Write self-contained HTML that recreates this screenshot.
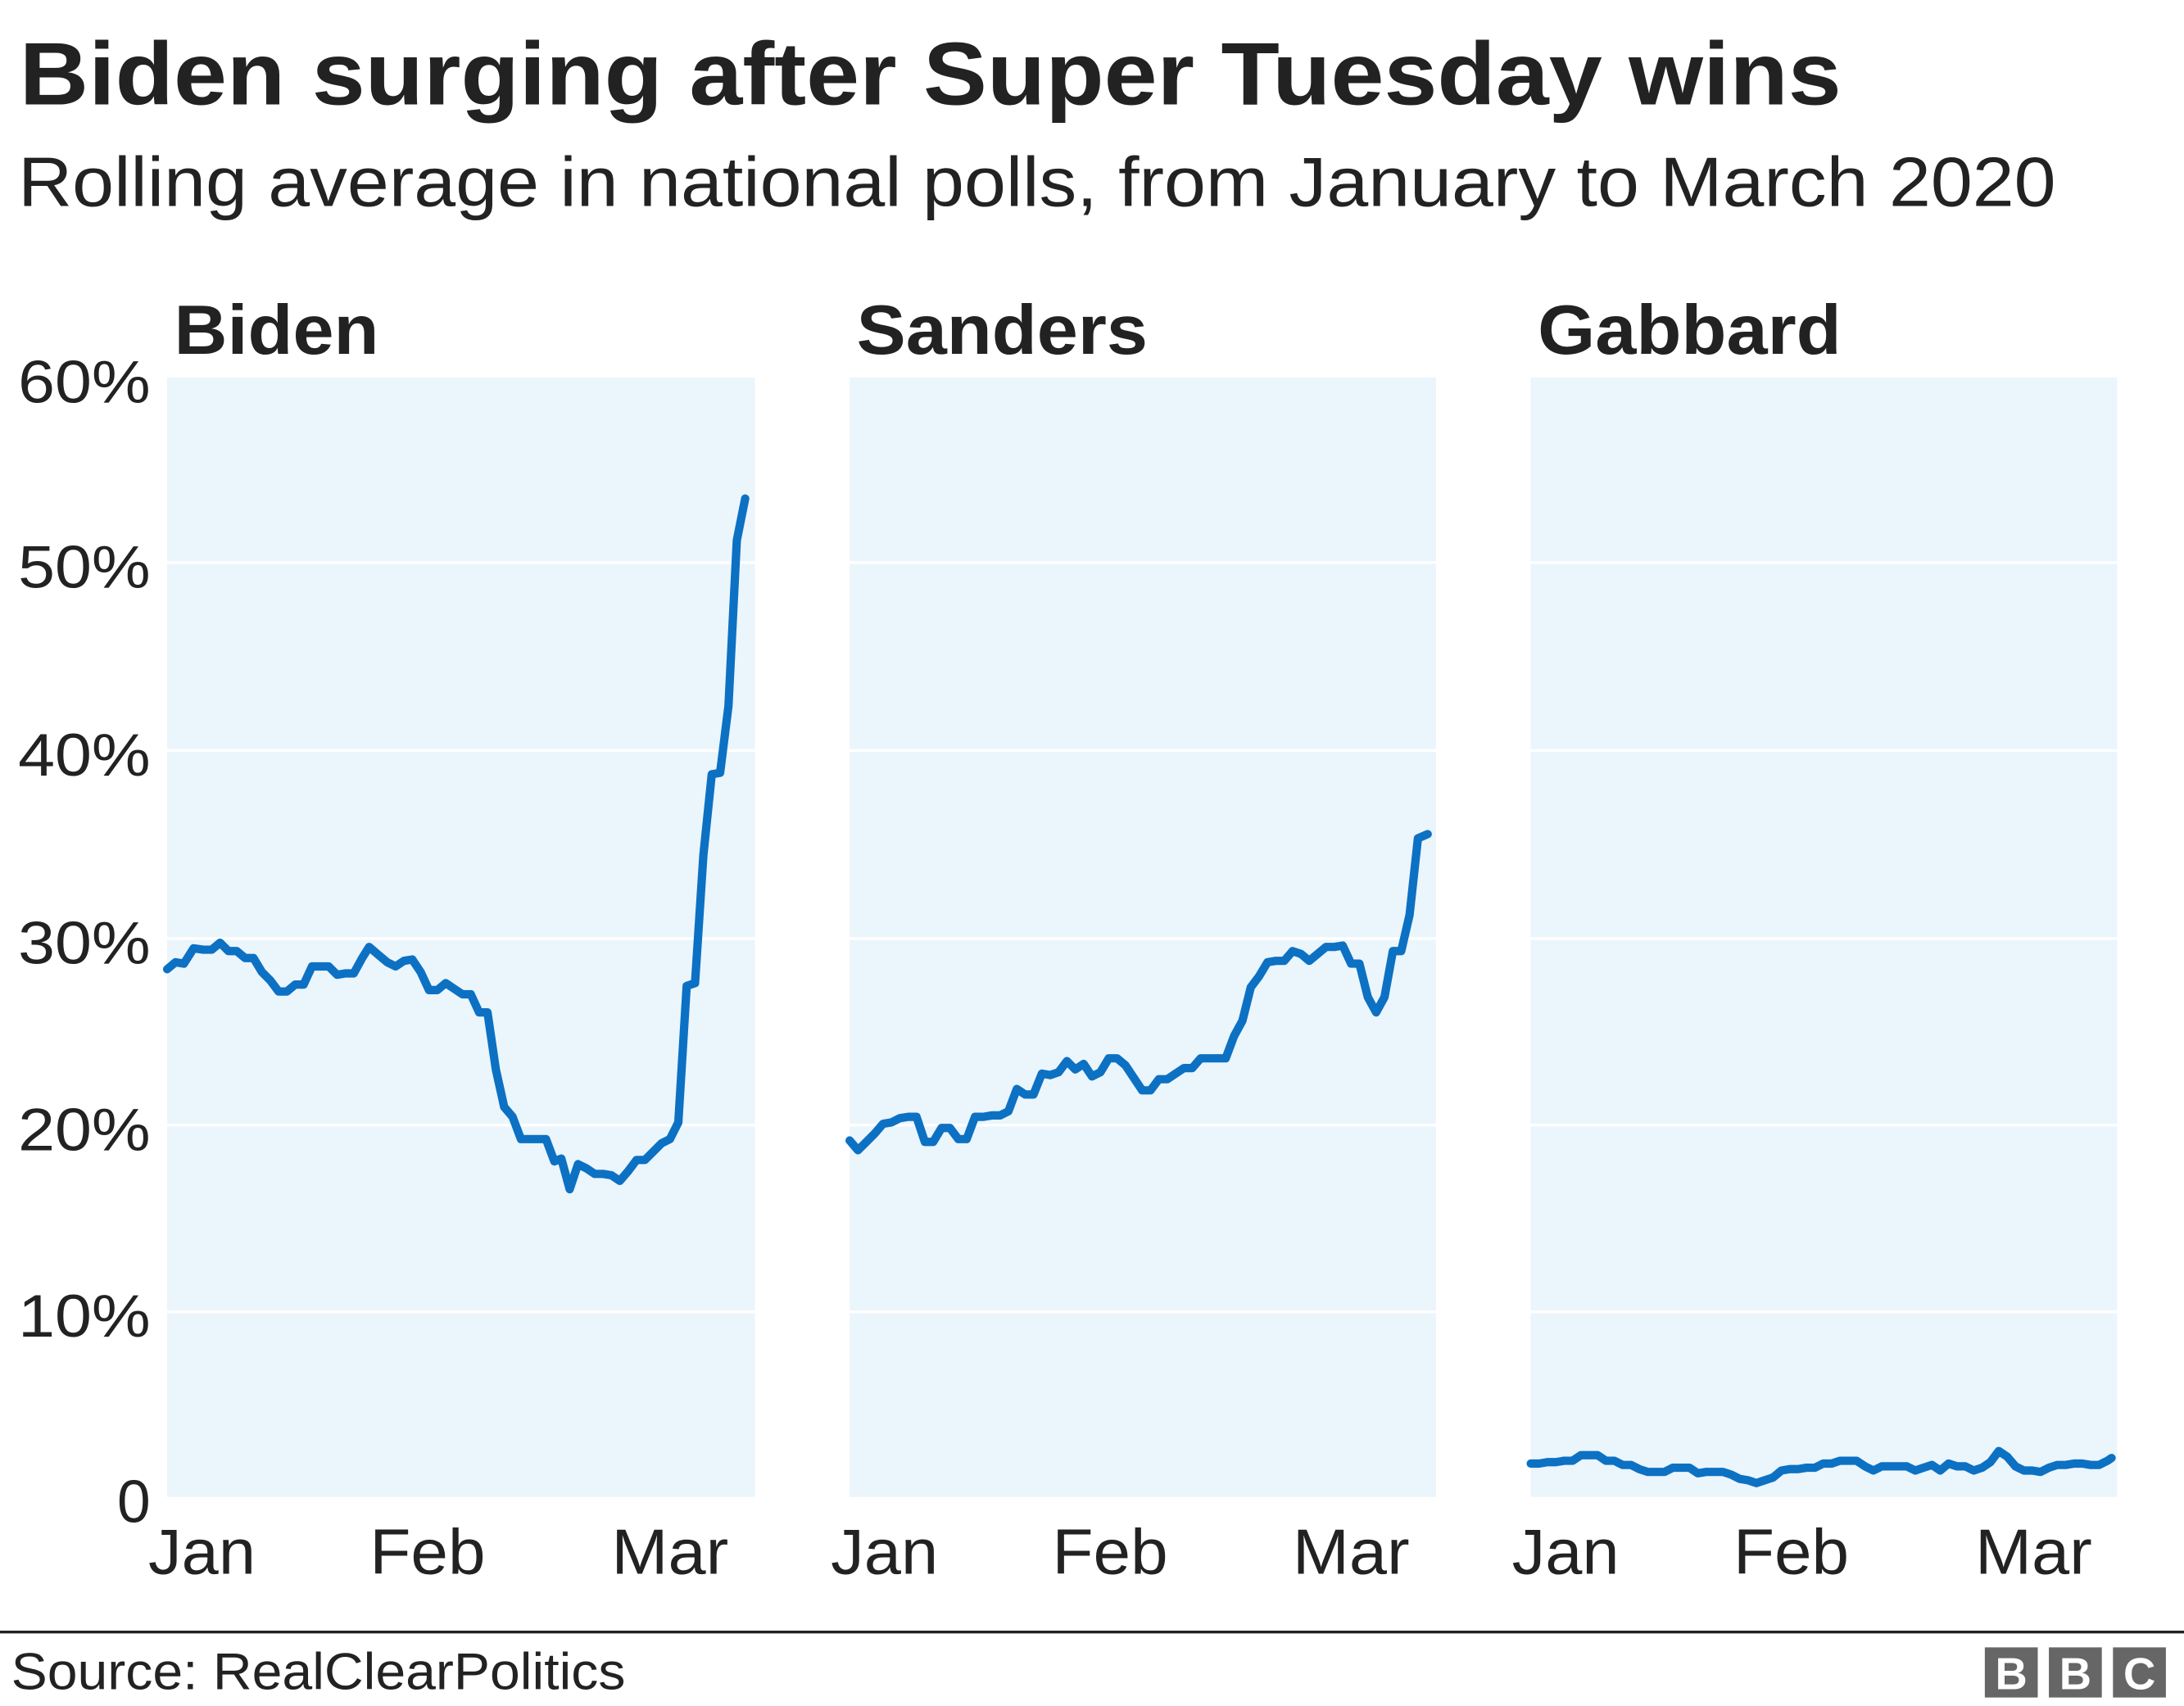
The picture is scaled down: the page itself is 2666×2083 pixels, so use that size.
<!DOCTYPE html>
<html><head><meta charset="utf-8"><style>html,body{margin:0;padding:0;background:#fff}svg{display:block}</style></head>
<body>
<svg width="2666" height="2083" viewBox="0 0 1568 1225.1" xmlns="http://www.w3.org/2000/svg" font-family="Liberation Sans, Arial, sans-serif">
<rect width="1568" height="1226" fill="#fff"/>
<text x="14" y="75" font-size="64" font-weight="bold" fill="#222" textLength="1308" lengthAdjust="spacingAndGlyphs">Biden surging after Super Tuesday wins</text>
<text x="13" y="148" font-size="50" fill="#222" textLength="1463" lengthAdjust="spacingAndGlyphs">Rolling average in national polls, from January to March 2020</text>
<g fill="#ebf5fc"><rect x="120" y="271" width="422" height="804"/><rect x="610" y="271" width="421" height="804"/><rect x="1099" y="271" width="421" height="804"/></g>
<g stroke="#fff" stroke-width="2">
<path d="M120 404H542M120 539H542M120 674H542M120 808H542M120 942H542"/>
<path d="M610 404H1031M610 539H1031M610 674H1031M610 808H1031M610 942H1031"/>
<path d="M1099 404H1520M1099 539H1520M1099 674H1520M1099 808H1520M1099 942H1520"/>
</g>
<g font-size="50" font-weight="bold" fill="#222" lengthAdjust="spacingAndGlyphs"><text x="125" y="254" textLength="147" lengthAdjust="spacingAndGlyphs">Biden</text><text x="615" y="254" textLength="209" lengthAdjust="spacingAndGlyphs">Sanders</text><text x="1104" y="254" textLength="218" lengthAdjust="spacingAndGlyphs">Gabbard</text></g>
<g font-size="43" fill="#222" text-anchor="end">
<text x="108" y="289" textLength="95" lengthAdjust="spacingAndGlyphs">60%</text>
<text x="108" y="422" textLength="95" lengthAdjust="spacingAndGlyphs">50%</text>
<text x="108" y="557" textLength="95" lengthAdjust="spacingAndGlyphs">40%</text>
<text x="108" y="692" textLength="95" lengthAdjust="spacingAndGlyphs">30%</text>
<text x="108" y="826" textLength="95" lengthAdjust="spacingAndGlyphs">20%</text>
<text x="108" y="960" textLength="95" lengthAdjust="spacingAndGlyphs">10%</text>
<text x="108" y="1093">0</text></g>
<g font-size="46" fill="#222" text-anchor="middle">
<text x="145" y="1130" textLength="77" lengthAdjust="spacingAndGlyphs">Jan</text><text x="307" y="1130" textLength="83" lengthAdjust="spacingAndGlyphs">Feb</text><text x="481" y="1130" textLength="84" lengthAdjust="spacingAndGlyphs">Mar</text>
<text x="635" y="1130" textLength="77" lengthAdjust="spacingAndGlyphs">Jan</text><text x="797" y="1130" textLength="83" lengthAdjust="spacingAndGlyphs">Feb</text><text x="970" y="1130" textLength="84" lengthAdjust="spacingAndGlyphs">Mar</text>
<text x="1124" y="1130" textLength="77" lengthAdjust="spacingAndGlyphs">Jan</text><text x="1286" y="1130" textLength="83" lengthAdjust="spacingAndGlyphs">Feb</text><text x="1460" y="1130" textLength="84" lengthAdjust="spacingAndGlyphs">Mar</text>
</g>
<g fill="none" stroke="#0c71c3" stroke-width="6" stroke-linejoin="round" stroke-linecap="round">
<polyline points="120,696 126,691 132,692 139,681 146,682 152,682 158,677 164,683 170,683 176,688 182,688 188,698 194,704 200,712 206,712 212,707 218,707 224,694 230,694 236,694 242,700 248,699 254,699 260,688 265,680 272,686 278,691 284,694 290,690 296,689 302,698 308,711 314,711 320,706 326,710 332,714 338,714 344,727 350,727 356,768 362,795 368,802 374,818 380,818 386,818 392,818 398,834 403,832 409,854 415,836 421,839 427,843 433,843 439,844 445,848 451,841 457,833 463,833 469,827 475,821 481,818 487,806 493,708 499,706 505,614 511,556 517,555 523,507 529,388 535,358"/>
<polyline points="610,819 616,826 622,820 628,814 634,807 640,806 646,803 652,802 658,802 664,820 670,820 676,810 682,810 688,818 694,818 700,802 706,802 712,801 718,801 724,798 730,782 736,786 742,786 748,771 754,772 760,770 766,762 772,768 778,764 784,773 790,770 796,760 802,760 808,765 814,774 820,783 826,783 832,775 838,775 844,771 850,767 856,767 862,760 868,760 874,760 880,760 886,744 892,733 898,709 904,701 910,691 916,690 922,690 928,683 934,685 940,690 946,685 952,680 958,680 964,679 970,692 976,692 982,716 988,727 994,716 1000,683 1006,683 1012,657 1018,602 1025,599"/>
<polyline points="1099,1051 1105,1051 1111,1050 1117,1050 1123,1049 1129,1049 1135,1045 1141,1045 1147,1045 1153,1049 1159,1049 1165,1052 1171,1052 1177,1055 1183,1057 1189,1057 1195,1057 1201,1054 1207,1054 1213,1054 1219,1058 1225,1057 1231,1057 1237,1057 1243,1059 1249,1062 1255,1063 1261,1065 1267,1063 1273,1061 1279,1056 1285,1055 1291,1055 1297,1054 1303,1054 1309,1051 1315,1051 1321,1049 1327,1049 1333,1049 1339,1053 1345,1056 1351,1053 1357,1053 1363,1053 1369,1053 1375,1056 1381,1054 1387,1052 1393,1056 1399,1051 1405,1053 1411,1053 1417,1056 1423,1054 1429,1050 1435,1042 1441,1046 1447,1053 1453,1056 1459,1056 1465,1057 1471,1054 1477,1052 1483,1052 1489,1051 1495,1051 1501,1052 1507,1052 1513,1049 1516,1047"/>
</g>
<line x1="0" y1="1172" x2="1568" y2="1172" stroke="#222" stroke-width="2"/>
<text x="8" y="1213" font-size="37" fill="#222" textLength="441" lengthAdjust="spacingAndGlyphs">Source: RealClearPolitics</text>
<g>
<rect x="1425" y="1183" width="38" height="36" fill="#666"/><rect x="1471" y="1183" width="38" height="36" fill="#666"/><rect x="1517" y="1183" width="38" height="36" fill="#666"/>
<g font-size="32" font-weight="bold" fill="#fff" text-anchor="middle"><text x="1444" y="1213">B</text><text x="1490" y="1213">B</text><text x="1536" y="1213">C</text></g>
</g>
</svg>
</body></html>
